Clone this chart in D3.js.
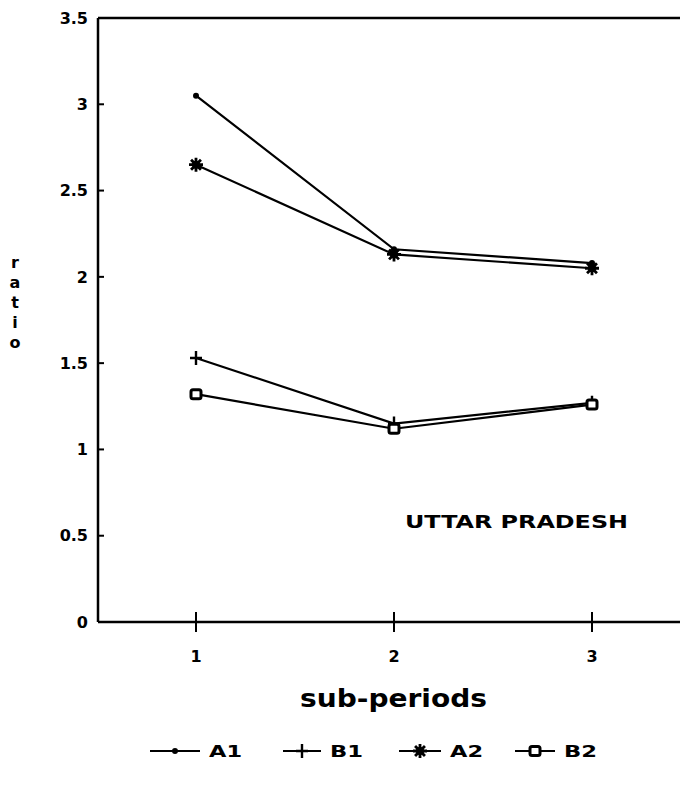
<!DOCTYPE html>
<html>
<head>
<meta charset="utf-8">
<script src="https://cdn.jsdelivr.net/npm/d3@7.9.0/dist/d3.min.js"></script>
<style>
  body { margin: 0; background: #fff; }
  svg text { font-family: "DejaVu Sans", "Liberation Sans", Arial, sans-serif; font-weight: bold; fill: #000; }
</style>
</head>
<body>
<svg id="chart" width="680" height="789"></svg>
<script>
const periods = [1, 2, 3];
const yTicks = [0, 0.5, 1, 1.5, 2, 2.5, 3, 3.5];
const seriesNames = ["A1", "B1", "A2", "B2"];
const a1 = [3.05, 2.16, 2.08];
const b1 = [1.53, 1.15, 1.27];
const a2 = [2.65, 2.13, 2.05];
const b2 = [1.32, 1.12, 1.26];

const series = [
  { name: "A1", values: a1, marker: "dot" },
  { name: "B1", values: b1, marker: "plus" },
  { name: "A2", values: a2, marker: "star" },
  { name: "B2", values: b2, marker: "square" }
];

const svg = d3.select("#chart");
const plotLeft = 98, plotRight = 680, plotTop = 18, plotBottom = 622;

const x = d3.scaleLinear().domain([1, 3]).range([196, 592]);
const y = d3.scaleLinear().domain([0, 3.5]).range([plotBottom, plotTop]);

// frame: left axis, top line, bottom axis
svg.append("line").attr("x1", plotLeft).attr("x2", plotLeft).attr("y1", plotTop).attr("y2", plotBottom)
  .attr("stroke", "#000").attr("stroke-width", 2.5);
svg.append("line").attr("x1", plotLeft).attr("x2", plotRight).attr("y1", plotTop).attr("y2", plotTop)
  .attr("stroke", "#000").attr("stroke-width", 2.5);
svg.append("line").attr("x1", plotLeft).attr("x2", plotRight).attr("y1", plotBottom).attr("y2", plotBottom)
  .attr("stroke", "#000").attr("stroke-width", 2.5);

// y ticks
yTicks.forEach(t => {
  if (t > 0 && t < 3.5) {
    svg.append("line").attr("x1", plotLeft).attr("x2", plotLeft + 6).attr("y1", y(t)).attr("y2", y(t))
      .attr("stroke", "#000").attr("stroke-width", 2);
  }
  svg.append("text").attr("x", 88).attr("y", y(t)).attr("dy", "0.36em")
    .attr("text-anchor", "end").attr("font-size", 16).text(t);
});

// x ticks
periods.forEach(p => {
  svg.append("line").attr("x1", x(p)).attr("x2", x(p)).attr("y1", plotBottom - 10).attr("y2", plotBottom + 10)
    .attr("stroke", "#000").attr("stroke-width", 2);
  svg.append("text").attr("x", x(p)).attr("y", plotBottom + 40).attr("text-anchor", "middle")
    .attr("font-size", 16).text(p);
});

// y label (stacked letters)
"ratio".split("").forEach((c, i) => {
  svg.append("text").attr("x", 15).attr("y", 268 + i * 20).attr("text-anchor", "middle")
    .attr("font-size", 16).text(c);
});

svg.append("text").attr("x", 300).attr("y", 707)
  .attr("font-size", 25).attr("textLength", 187).attr("lengthAdjust", "spacingAndGlyphs")
  .text("sub-periods");

svg.append("text").attr("x", 405).attr("y", 528)
  .attr("font-size", 17).attr("textLength", 223).attr("lengthAdjust", "spacingAndGlyphs")
  .text("UTTAR PRADESH");

function drawMarker(g, kind, cx, cy) {
  if (kind === "dot") {
    g.append("circle").attr("cx", cx).attr("cy", cy).attr("r", 3).attr("fill", "#000");
  } else if (kind === "plus") {
    g.append("path").attr("d", `M${cx - 6},${cy}H${cx + 6}M${cx},${cy - 7}V${cy + 7}`)
      .attr("stroke", "#000").attr("stroke-width", 2.4);
  } else if (kind === "star") {
    const r = 7;
    let d = "";
    [0, 45, 90, 135].forEach(a => {
      const rad = a * Math.PI / 180;
      d += `M${cx - r * Math.cos(rad)},${cy - r * Math.sin(rad)}L${cx + r * Math.cos(rad)},${cy + r * Math.sin(rad)}`;
    });
    g.append("path").attr("d", d).attr("stroke", "#000").attr("stroke-width", 2.8);
    g.append("circle").attr("cx", cx).attr("cy", cy).attr("r", 4).attr("fill", "#000");
  } else if (kind === "square") {
    g.append("rect").attr("x", cx - 5).attr("y", cy - 4.5).attr("width", 10).attr("height", 9)
      .attr("rx", 2).attr("fill", "#fff").attr("stroke", "#000").attr("stroke-width", 3);
  }
}

const line = d3.line().x((d, i) => x(periods[i])).y(d => y(d));

series.forEach(s => {
  svg.append("path").attr("d", line(s.values)).attr("fill", "none")
    .attr("stroke", "#000").attr("stroke-width", 2.2);
  const g = svg.append("g");
  s.values.forEach((v, i) => drawMarker(g, s.marker, x(periods[i]), y(v)));
});

// legend
const legendX = [150, 283, 399, 515];
const legendW = [50, 38, 42, 40];
const legendY = 751;
series.forEach((s, i) => {
  const g = svg.append("g");
  g.append("line").attr("x1", legendX[i]).attr("x2", legendX[i] + legendW[i])
    .attr("y1", legendY).attr("y2", legendY).attr("stroke", "#000").attr("stroke-width", 2.2);
  drawMarker(g, s.marker, legendX[i] + legendW[i] / 2, legendY);
  g.append("text").attr("x", legendX[i] + legendW[i] + 9).attr("y", legendY + 6)
    .attr("font-size", 16).attr("textLength", 33).attr("lengthAdjust", "spacingAndGlyphs")
    .text(s.name);
});
</script>
</body>
</html>
